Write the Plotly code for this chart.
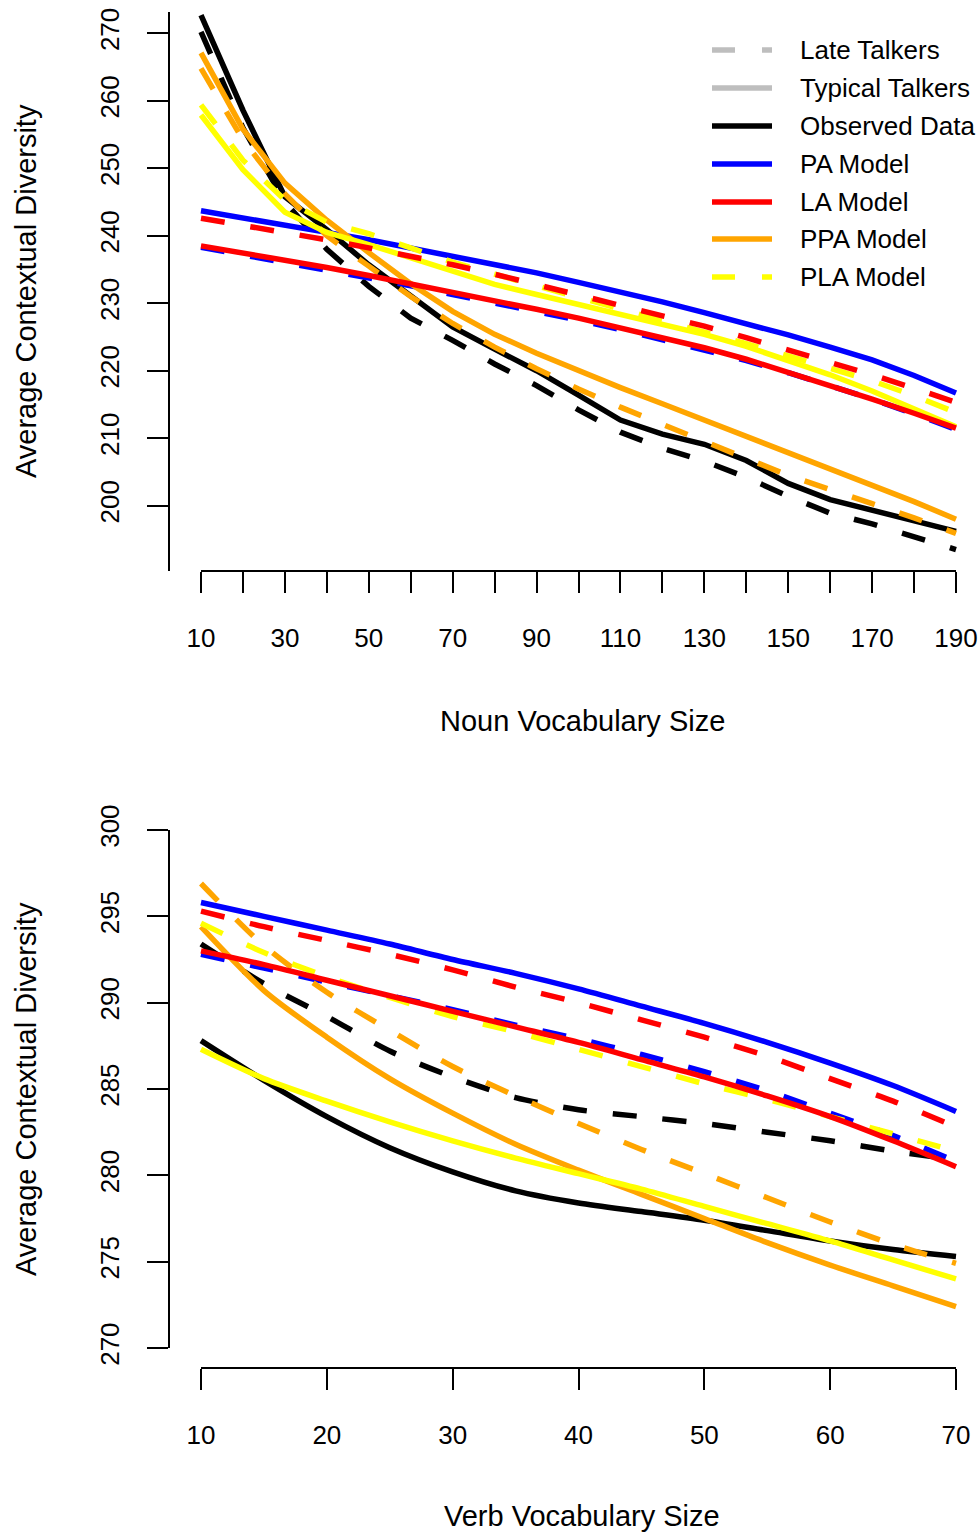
import plotly.graph_objects as go

W, H = 979, 1532
FONT = "Liberation Sans"

# ---------------- data: top panel (nouns) ----------------
noun_x = [10, 20, 30, 40, 50, 60, 70, 80, 90, 100, 110, 120, 130, 140, 150, 160, 170, 180, 190]
noun_obs_tt = [272.7, 258.6, 245.8, 240.9, 235.7, 231.0, 226.5, 223.2, 220.0, 216.4, 212.7, 210.6, 209.1, 206.7, 203.3, 200.9, 199.3, 197.9, 196.2]
noun_obs_lt = [270.2, 256.0, 245.0, 238.0, 232.5, 227.8, 224.5, 221.0, 217.8, 214.2, 210.9, 208.5, 206.6, 204.2, 201.4, 198.9, 197.3, 195.3, 193.5]
noun_pa_tt = [243.7, 242.7, 241.7, 240.5, 239.4, 238.2, 237.0, 235.8, 234.5, 233.1, 231.7, 230.2, 228.6, 227.0, 225.3, 223.5, 221.6, 219.3, 216.7]
noun_pa_lt = [238.3, 237.2, 236.1, 235.0, 233.8, 232.6, 231.3, 230.1, 228.8, 227.5, 226.1, 224.6, 223.1, 221.5, 219.7, 217.8, 215.8, 213.6, 211.3]
noun_la_tt = [238.5, 237.5, 236.4, 235.3, 234.1, 232.9, 231.6, 230.4, 229.1, 227.8, 226.4, 225.0, 223.4, 221.7, 219.8, 217.8, 215.8, 213.7, 211.5]
noun_la_lt = [242.6, 241.6, 240.5, 239.4, 238.2, 237.0, 235.7, 234.3, 232.8, 231.3, 229.8, 228.2, 226.6, 224.9, 223.1, 221.3, 219.4, 217.4, 215.3]
noun_ppa_tt = [267.1, 255.8, 247.8, 242.3, 237.5, 232.9, 228.8, 225.4, 222.6, 220.0, 217.5, 215.1, 212.7, 210.3, 207.9, 205.5, 203.1, 200.6, 198.0]
noun_ppa_lt = [264.8, 254.2, 246.2, 240.0, 235.5, 231.0, 227.0, 223.5, 220.3, 217.3, 214.6, 212.0, 209.5, 207.0, 204.5, 202.3, 200.3, 198.2, 195.9]
noun_pla_tt = [257.9, 249.8, 243.5, 240.5, 238.7, 236.7, 234.7, 232.8, 231.3, 229.8, 228.4, 226.9, 225.4, 223.6, 221.6, 219.4, 217.0, 214.4, 211.7]
noun_pla_lt = [259.4, 251.2, 245.3, 242.0, 240.3, 238.1, 236.1, 234.3, 232.6, 231.0, 229.2, 227.5, 225.8, 224.0, 222.2, 220.4, 218.5, 216.3, 213.8]

# ---------------- data: bottom panel (verbs) ----------------
verb_x = [10, 15, 20, 25, 30, 35, 40, 45, 50, 55, 60, 65, 70]
verb_obs_tt = [287.8, 285.5, 283.4, 281.6, 280.2, 279.1, 278.4, 277.9, 277.4, 276.8, 276.2, 275.7, 275.3]
verb_obs_lt = [293.4, 291.1, 289.2, 287.2, 285.7, 284.5, 283.8, 283.4, 283.0, 282.5, 282.0, 281.4, 280.9]
verb_pa_tt = [295.8, 295.0, 294.2, 293.4, 292.5, 291.7, 290.8, 289.8, 288.8, 287.7, 286.5, 285.2, 283.7]
verb_pa_lt = [292.8, 292.0, 291.2, 290.4, 289.6, 288.7, 287.9, 287.0, 286.0, 284.9, 283.6, 282.3, 280.8]
verb_la_tt = [293.0, 292.2, 291.3, 290.4, 289.5, 288.6, 287.7, 286.7, 285.7, 284.6, 283.4, 282.0, 280.5]
verb_la_lt = [295.3, 294.4, 293.6, 292.8, 291.9, 290.9, 290.0, 289.0, 288.0, 286.9, 285.6, 284.3, 282.8]
verb_ppa_tt = [294.4, 290.7, 288.0, 285.6, 283.6, 281.8, 280.3, 278.9, 277.5, 276.1, 274.8, 273.6, 272.4]
verb_ppa_lt = [296.9, 293.3, 290.6, 288.4, 286.3, 284.6, 283.0, 281.5, 280.1, 278.7, 277.3, 276.0, 274.9]
verb_pla_tt = [287.3, 285.6, 284.3, 283.1, 282.0, 281.0, 280.1, 279.2, 278.2, 277.2, 276.2, 275.1, 274.0]
verb_pla_lt = [294.6, 292.9, 291.5, 290.3, 289.2, 288.3, 287.3, 286.3, 285.3, 284.4, 283.4, 282.4, 281.4]

noun_yticks = [200, 210, 220, 230, 240, 250, 260, 270]
verb_yticks = [270, 275, 280, 285, 290, 295, 300]
noun_xlabels = [str(v) if (v - 10) % 20 == 0 else "" for v in noun_x]
verb_xticks = [10, 20, 30, 40, 50, 60, 70]

legend_labels = ["Late Talkers", "Typical Talkers", "Observed Data", "PA Model",
                 "LA Model", "PPA Model", "PLA Model"]
legend_colors = ["#BEBEBE", "#BEBEBE", "#000000", "#0000FF", "#FF0000", "#FFA500", "#FFFF00"]
legend_dashed = [True, False, False, False, False, False, True]

COL = {"obs": "#000000", "pa": "#0000FF", "la": "#FF0000", "ppa": "#FFA500", "pla": "#FFFF00"}
DASH = "24px,26px"
LW = 5.5

fig = go.Figure()


def add(xs, ys, color, dashed, xa, ya, smooth):
    fig.add_trace(go.Scatter(
        x=xs, y=ys, mode="lines", xaxis=xa, yaxis=ya,
        line=dict(color=color, width=LW, dash=DASH if dashed else "solid",
                  shape="spline" if smooth else "linear", smoothing=0.8),
        showlegend=False, hoverinfo="skip"))


top = [(noun_obs_tt, "obs", False), (noun_obs_lt, "obs", True),
       (noun_pa_tt, "pa", False), (noun_pa_lt, "pa", True),
       (noun_ppa_tt, "ppa", False), (noun_ppa_lt, "ppa", True),
       (noun_pla_tt, "pla", False), (noun_pla_lt, "pla", True),
       (noun_la_tt, "la", False), (noun_la_lt, "la", True)]
for ys, k, d in top:
    add(noun_x, ys, COL[k], d, "x", "y", False)

bot = [(verb_obs_tt, "obs", False), (verb_obs_lt, "obs", True),
       (verb_pa_tt, "pa", False), (verb_pa_lt, "pa", True),
       (verb_ppa_tt, "ppa", False), (verb_ppa_lt, "ppa", True),
       (verb_pla_tt, "pla", False), (verb_pla_lt, "pla", True),
       (verb_la_tt, "la", False), (verb_la_lt, "la", True)]
for ys, k, d in bot:
    add(verb_x, ys, COL[k], d, "x2", "y2", True)


def py(px):
    return 1 - px / H


def pxx(px):
    return px / W


# axis ranges derived from pixel layout
n_ppu = 755 / 180.0
v_ppu = 755 / 60.0
ny_ppu = 472.4 / 70.0

tickfont = dict(family=FONT, size=26, color="black")
common_x = dict(ticks="outside", ticklen=21, tickwidth=2, tickcolor="black",
                showline=False, showgrid=False, zeroline=False, tickfont=tickfont,
                ticklabelstandoff=23, automargin=False)
common_y = dict(ticks="outside", ticklen=21, tickwidth=2, tickcolor="black",
                showline=True, linewidth=2, linecolor="black", showgrid=False,
                zeroline=False, tickfont=tickfont, tickangle=-90, ticklabelstandoff=18,
                automargin=False)

fig.update_layout(
    width=W, height=H, autosize=False,
    margin=dict(l=0, r=0, t=0, b=0, pad=0, autoexpand=False),
    paper_bgcolor="white", plot_bgcolor="white", showlegend=False,
    font=dict(family=FONT, color="black"),
    xaxis=dict(domain=[pxx(170), 1], range=[10 - 31 / n_ppu, 10 + (W - 201) / n_ppu],
               anchor="y", tickvals=noun_x, ticktext=noun_xlabels, **common_x),
    yaxis=dict(domain=[py(571), py(12)],
               range=[270 - (571 - 33.3) / ny_ppu, 270 + (33.3 - 12) / ny_ppu],
               anchor="x", tickvals=noun_yticks, ticktext=[str(v) for v in noun_yticks], **common_y),
    xaxis2=dict(domain=[pxx(170), 1], range=[10 - 31 / v_ppu, 10 + (W - 201) / v_ppu],
                anchor="free", position=py(1368), tickvals=verb_xticks,
                ticktext=[str(v) for v in verb_xticks], **common_x),
    yaxis2=dict(domain=[py(1348), py(830)], range=[270, 300], anchor="x2",
                tickvals=verb_yticks, ticktext=[str(v) for v in verb_yticks], **common_y),
)

shapes = [
    dict(type="line", xref="x", yref="paper", x0=10, x1=190, y0=py(571), y1=py(571),
         line=dict(color="black", width=2)),
    dict(type="line", xref="x2", yref="paper", x0=10, x1=70, y0=py(1368), y1=py(1368),
         line=dict(color="black", width=2)),
]

leg_y = [50, 88, 126, 164, 202, 239, 277]
annotations = []
for lab, col, dsh, yy in zip(legend_labels, legend_colors, legend_dashed, leg_y):
    if dsh:
        segs = [(712, 735), (762, 772)]
    else:
        segs = [(712, 772)]
    for a, b in segs:
        shapes.append(dict(type="line", xref="paper", yref="paper",
                           x0=pxx(a), x1=pxx(b), y0=py(yy), y1=py(yy),
                           line=dict(color=col, width=LW)))
    annotations.append(dict(text=lab, xref="paper", yref="paper", x=pxx(798), y=py(yy),
                            xanchor="left", yanchor="middle", showarrow=False,
                            font=dict(family=FONT, size=26, color="black")))

titlefont = dict(family=FONT, size=29, color="black")
annotations += [
    dict(text="Noun Vocabulary Size", xref="paper", yref="paper", x=pxx(582), y=py(721),
         xanchor="center", yanchor="middle", showarrow=False, font=titlefont),
    dict(text="Verb Vocabulary Size", xref="paper", yref="paper", x=pxx(582), y=py(1516),
         xanchor="center", yanchor="middle", showarrow=False, font=titlefont),
    dict(text="Average Contextual Diversity", xref="paper", yref="paper", x=pxx(26), y=py(291),
         xanchor="center", yanchor="middle", textangle=-90, showarrow=False, font=titlefont),
    dict(text="Average Contextual Diversity", xref="paper", yref="paper", x=pxx(26), y=py(1089),
         xanchor="center", yanchor="middle", textangle=-90, showarrow=False, font=titlefont),
]

fig.update_layout(shapes=shapes, annotations=annotations)
fig.write_html("out.html")
